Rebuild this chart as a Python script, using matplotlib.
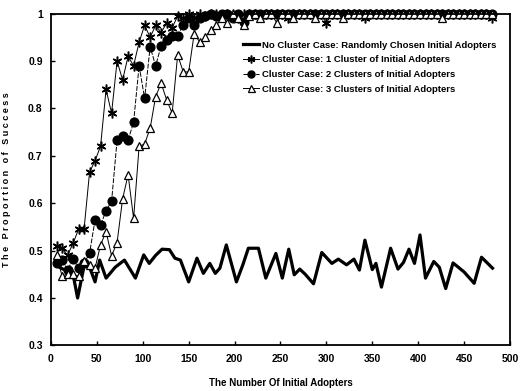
import matplotlib
matplotlib.use("Agg")
import matplotlib.pyplot as plt
import numpy as np

plt.rcParams['font.family'] = ['Liberation Sans Narrow', 'Liberation Sans', 'DejaVu Sans']
plt.rcParams['font.weight'] = 'bold'

# no cluster case
nc_x = [5, 12, 20, 25, 29, 37, 43, 48, 53, 60, 70, 80, 92, 101, 107, 114, 121, 129, 135, 141,
        150, 159, 166, 173, 179, 184, 191, 202, 209, 215, 226, 234, 245, 252, 259, 265, 271, 277,
        286, 295, 306, 313, 322, 330, 336, 342, 350, 354, 360, 370, 378, 384, 390, 396, 402, 408,
        417, 423, 430, 438, 450, 461, 469, 481]
nc_y = [0.47, 0.462, 0.455, 0.44, 0.40, 0.477, 0.46, 0.434, 0.48, 0.442, 0.465, 0.48, 0.442, 0.491,
        0.473, 0.49, 0.503, 0.502, 0.484, 0.48, 0.434, 0.484, 0.452, 0.473, 0.452, 0.463, 0.512,
        0.434, 0.47, 0.505, 0.505, 0.442, 0.494, 0.442, 0.503, 0.449, 0.461, 0.45, 0.43, 0.496,
        0.473, 0.482, 0.47, 0.482, 0.459, 0.522, 0.46, 0.473, 0.423, 0.505, 0.461, 0.475, 0.503,
        0.473, 0.533, 0.442, 0.477, 0.465, 0.42, 0.474, 0.455, 0.431, 0.486, 0.463]

# cluster cases, sampled every 6 adopters
cl_x = np.arange(6, 481, 6)
cl1_y = [0.51, 0.505, 0.49, 0.515, 0.545, 0.545, 0.665, 0.69, 0.72, 0.84,
         0.79, 0.90, 0.86, 0.91, 0.89, 0.94, 0.975, 0.95, 0.975, 0.96,
         0.98, 0.97, 0.995, 0.99, 1.0, 0.99, 1.0, 0.995, 1.0, 1.0,
         0.995, 1.0, 1.0, 0.99, 1.0, 1.0, 1.0, 0.995, 1.0, 1.0,
         1.0, 1.0, 0.99, 1.0, 1.0, 1.0, 1.0, 1.0, 1.0, 0.98,
         1.0, 1.0, 1.0, 1.0, 1.0, 1.0, 0.99, 1.0, 1.0, 1.0,
         1.0, 1.0, 1.0, 1.0, 1.0, 1.0, 1.0, 1.0, 1.0, 1.0,
         1.0, 1.0, 1.0, 1.0, 1.0, 1.0, 1.0, 1.0, 1.0, 0.99]
cl2_y = [0.473, 0.48, 0.459, 0.482, 0.463, 0.473, 0.494, 0.565, 0.554, 0.584,
         0.604, 0.733, 0.742, 0.733, 0.771, 0.89, 0.821, 0.93, 0.89, 0.932,
         0.944, 0.953, 0.953, 0.976, 0.99, 0.976, 0.99, 0.995, 1.0, 0.995,
         1.0, 1.0, 0.99, 1.0, 0.983, 1.0, 1.0, 1.0, 1.0, 1.0,
         1.0, 1.0, 1.0, 1.0, 1.0, 1.0, 1.0, 1.0, 1.0, 1.0,
         1.0, 1.0, 1.0, 1.0, 1.0, 1.0, 1.0, 1.0, 1.0, 1.0,
         1.0, 1.0, 1.0, 1.0, 1.0, 1.0, 1.0, 1.0, 1.0, 1.0,
         1.0, 1.0, 1.0, 1.0, 1.0, 1.0, 1.0, 1.0, 1.0, 1.0]
cl3_y = [0.49, 0.447, 0.45, 0.45, 0.446, 0.478, 0.47, 0.463, 0.512, 0.54,
         0.489, 0.517, 0.609, 0.66, 0.568, 0.72, 0.725, 0.758, 0.825, 0.853,
         0.818, 0.79, 0.913, 0.877, 0.877, 0.958, 0.94, 0.95, 0.965, 0.975,
         0.99, 0.98, 1.0, 0.99, 0.975, 0.995, 1.0, 0.99, 1.0, 1.0,
         0.98, 1.0, 1.0, 0.99, 1.0, 1.0, 1.0, 0.99, 1.0, 1.0,
         1.0, 1.0, 0.99, 1.0, 1.0, 1.0, 1.0, 1.0, 1.0, 1.0,
         1.0, 1.0, 1.0, 1.0, 1.0, 1.0, 1.0, 1.0, 1.0, 1.0,
         0.99, 1.0, 1.0, 1.0, 1.0, 1.0, 1.0, 1.0, 1.0, 1.0]

labels = ["No Cluster Case: Randomly Chosen Initial Adopters",
          "Cluster Case: 1 Cluster of Initial Adopters",
          "Cluster Case: 2 Clusters of Initial Adopters",
          "Cluster Case: 3 Clusters of Initial Adopters"]

fig = plt.figure(figsize=(5.29, 3.91), dpi=100)
ax = fig.add_axes([0.0964, 0.1166, 0.8676, 0.8486])

ax.plot(nc_x, nc_y, color='black', lw=2.3, solid_joinstyle='round', label=labels[0])
ax.plot(cl_x, cl1_y, color='black', lw=0.7, marker=(6, 2, 0), ms=7, mew=1.1,
        clip_on=False, label=labels[1])
ax.plot(cl_x, cl2_y, color='black', lw=0.7, ls=(0, (5, 1.5)), marker='o', ms=6.3,
        clip_on=False, label=labels[2])
ax.plot(cl_x, cl3_y, color='black', lw=0.7, marker='^', ms=6.3, mfc='white', mew=0.9,
        clip_on=False, label=labels[3])

ax.set_xlim(0, 500)
ax.set_ylim(0.3, 1.0)
ax.set_xticks(range(0, 501, 50))
ax.set_yticks([0.3, 0.4, 0.5, 0.6, 0.7, 0.8, 0.9, 1.0])
ax.set_yticklabels(['0.3', '0.4', '0.5', '0.6', '0.7', '0.8', '0.9', '1'])
ax.tick_params(direction='in', length=3, width=1, labelsize=7.5, pad=6)
for t in ax.get_xticklabels() + ax.get_yticklabels():
    t.set_fontweight('bold')
for s in ax.spines.values():
    s.set_linewidth(1.3)

ax.set_xlabel("The Number Of Initial Adopters", fontsize=7, fontweight='bold', labelpad=10)
ax.set_ylabel("T h e   P r o p o r t i o n   o f   S u c c e s s", fontsize=6.5,
              fontweight='bold', labelpad=12)

ax.legend(loc='upper left', bbox_to_anchor=(0.41, 0.93), frameon=False,
          prop={'size': 6.8, 'weight': 'bold'}, handlelength=1.7, handletextpad=0.3,
          labelspacing=0.6, borderaxespad=0, markerscale=0.8)

fig.savefig("out.png", dpi=100)
